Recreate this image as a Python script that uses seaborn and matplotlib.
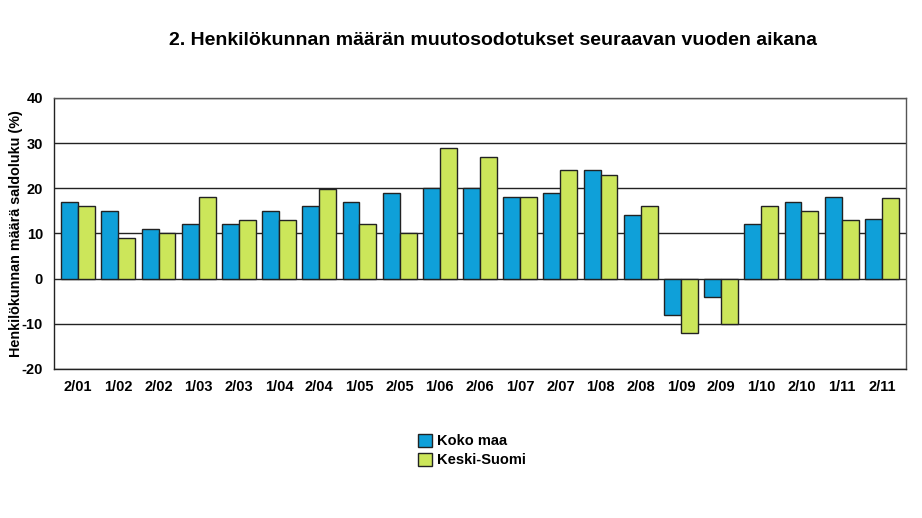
import numpy as np
import pandas as pd
import matplotlib
matplotlib.use("Agg")
import matplotlib.pyplot as plt
import seaborn as sns

# -------------------------
# DATA
# -------------------------
periods = ["2/01", "1/02", "2/02", "1/03", "2/03", "1/04", "2/04", "1/05", "2/05", "1/06",
           "2/06", "1/07", "2/07", "1/08", "2/08", "1/09", "2/09", "1/10", "2/10", "1/11", "2/11"]
koko_maa = [17, 15, 11, 12, 12, 15, 16, 17, 19, 20,
            20, 18, 19, 24, 14, -8, -4, 12, 17, 18, 13.2]
keski_suomi = [16, 9, 10, 18, 13, 13, 19.8, 12, 10, 29,
               27, 18, 24, 23, 16, -12, -10, 16, 15, 13, 17.8]
series_names = ["Koko maa", "Keski-Suomi"]
colors = ["#0FA0D9", "#CCE65A"]

df = pd.DataFrame({
    "period": periods * 2,
    "value": koko_maa + keski_suomi,
    "series": [series_names[0]] * len(periods) + [series_names[1]] * len(periods),
})

sns.set_theme(style="white")
plt.rcParams["font.family"] = ["Liberation Sans", "DejaVu Sans"]
plt.rcParams["axes.unicode_minus"] = False
plt.rcParams["text.color"] = "black"
plt.rcParams["axes.labelcolor"] = "black"
plt.rcParams["xtick.color"] = "black"
plt.rcParams["ytick.color"] = "black"

fig = plt.figure(figsize=(9.22, 5.18), dpi=100)
ax = fig.add_axes([0.0586, 0.288, 0.924, 0.523])

sns.barplot(data=df, x="period", y="value", hue="series", palette=colors,
            saturation=1, width=0.84, edgecolor="#222222", linewidth=1.0,
            ax=ax, zorder=3)

# -------------------------
# AXES STYLING
# -------------------------
ax.set_ylim(-20, 40)
ax.set_yticks(np.arange(-20, 41, 10))
ax.set_xlim(-0.6, len(periods) - 0.4)
ax.yaxis.grid(True, color="#222222", linewidth=1.0, zorder=0)
ax.set_axisbelow(True)

for side in ["top", "right"]:
    ax.spines[side].set_color("#555555")
    ax.spines[side].set_linewidth(1.0)
for side in ["left", "bottom"]:
    ax.spines[side].set_color("#222222")
    ax.spines[side].set_linewidth(1.0)

ax.tick_params(axis="both", direction="out", length=6, width=1, color="#222222",
               labelsize=10.5, pad=2)
for lbl in ax.get_xticklabels() + ax.get_yticklabels():
    lbl.set_fontweight("bold")

ax.set_xlabel("")
ax.set_ylabel("Henkilökunnan määrä saldoluku (%)", fontsize=10.4, fontweight="bold")
ax.yaxis.set_label_coords(-0.0364, 0.5)

fig.text(0.535, 0.922, "2. Henkilökunnan määrän muutosodotukset seuraavan vuoden aikana",
         ha="center", va="center", fontsize=14, fontweight="bold")

# -------------------------
# LEGEND
# -------------------------
leg = ax.legend(loc="upper left", bbox_to_anchor=(412 / 922, 1 - 428 / 518),
                bbox_transform=fig.transFigure, frameon=False,
                handlelength=1.0, handleheight=1.0, handletextpad=0.3,
                labelspacing=0.3, borderaxespad=0, prop={"weight": "bold", "size": 10.5})

fig.savefig("out.png", dpi=100)
plt.close(fig)
